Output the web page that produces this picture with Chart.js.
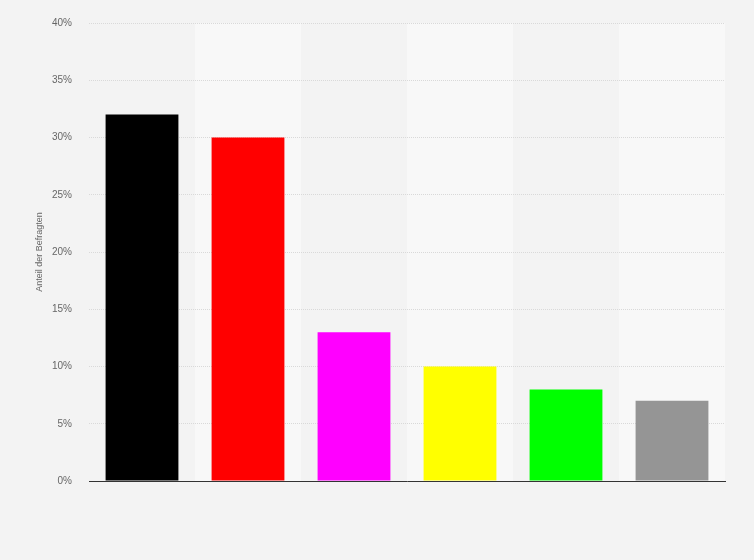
<!DOCTYPE html>
<html>
<head>
<meta charset="utf-8">
<script src="https://cdn.jsdelivr.net/npm/chart.js@4/dist/chart.umd.min.js"></script>
<style>
html,body{margin:0;padding:0;background:#f3f3f3;}
#wrap{width:754px;height:560px;}
</style>
</head>
<body>
<div id="wrap"><canvas id="c" width="754" height="560"></canvas></div>
<script>
const categories = ["CDU/CSU", "SPD", "Die Linke", "FDP", "Grüne", "Sonstige"];
const values = [32, 30, 13, 10, 8, 7];
const barColors = ["#000000", "#ff0000", "#ff00ff", "#ffff00", "#00ff00", "#959595"];
const yTicks = [0, 5, 10, 15, 20, 25, 30, 35, 40];
const yTitle = "Anteil der Befragten";

const bgPlugin = {
  id: 'bg',
  beforeDraw(chart) {
    const ctx = chart.ctx;
    const a = chart.chartArea;
    ctx.save();
    ctx.fillStyle = '#f3f3f3';
    ctx.fillRect(0, 0, chart.width, chart.height);
    const x = chart.scales.x;
    const w = (a.right - a.left) / categories.length;
    ctx.fillStyle = '#f8f8f8';
    for (let i = 1; i < categories.length; i += 2) {
      const cx = x.getPixelForValue(i);
      ctx.fillRect(cx - w / 2, a.top, w, a.bottom - a.top);
    }
    ctx.restore();
  }
};

new Chart(document.getElementById('c'), {
  type: 'bar',
  data: {
    labels: categories,
    datasets: [{
      data: values,
      backgroundColor: barColors,
      borderWidth: 0,
      barPercentage: 0.687,
      categoryPercentage: 1.0
    }]
  },
  options: {
    responsive: false,
    animation: false,
    devicePixelRatio: 1,
    layout: { padding: { left: 0, right: 29, top: 20, bottom: 79 } },
    plugins: { legend: { display: false }, tooltip: { enabled: false } },
    scales: {
      x: {
        display: true,
        grid: { display: false, drawTicks: false },
        ticks: { display: false },
        border: { display: true, color: '#333333', width: 1 },
        afterFit(s) { s.height = 0; }
      },
      y: {
        min: 0, max: 40,
        afterBuildTicks(s) { s.ticks = yTicks.map(v => ({ value: v })); },
        afterFit(s) { s.width = 89; },
        ticks: {
          callback: v => v + '%',
          color: '#666666',
          font: { family: 'Arial, "Liberation Sans", sans-serif', size: 10 },
          padding: 17
        },
        grid: {
          color: '#d9d9d9',
          drawTicks: false,
          tickLength: 0
        },
        border: { display: false, dash: [1, 1] },
        title: {
          display: true,
          text: yTitle,
          color: '#666666',
          font: { family: 'Arial, "Liberation Sans", sans-serif', size: 9 },
          padding: { top: 34, bottom: 0 }
        }
      }
    }
  },
  plugins: [bgPlugin]
});
</script>
</body>
</html>
